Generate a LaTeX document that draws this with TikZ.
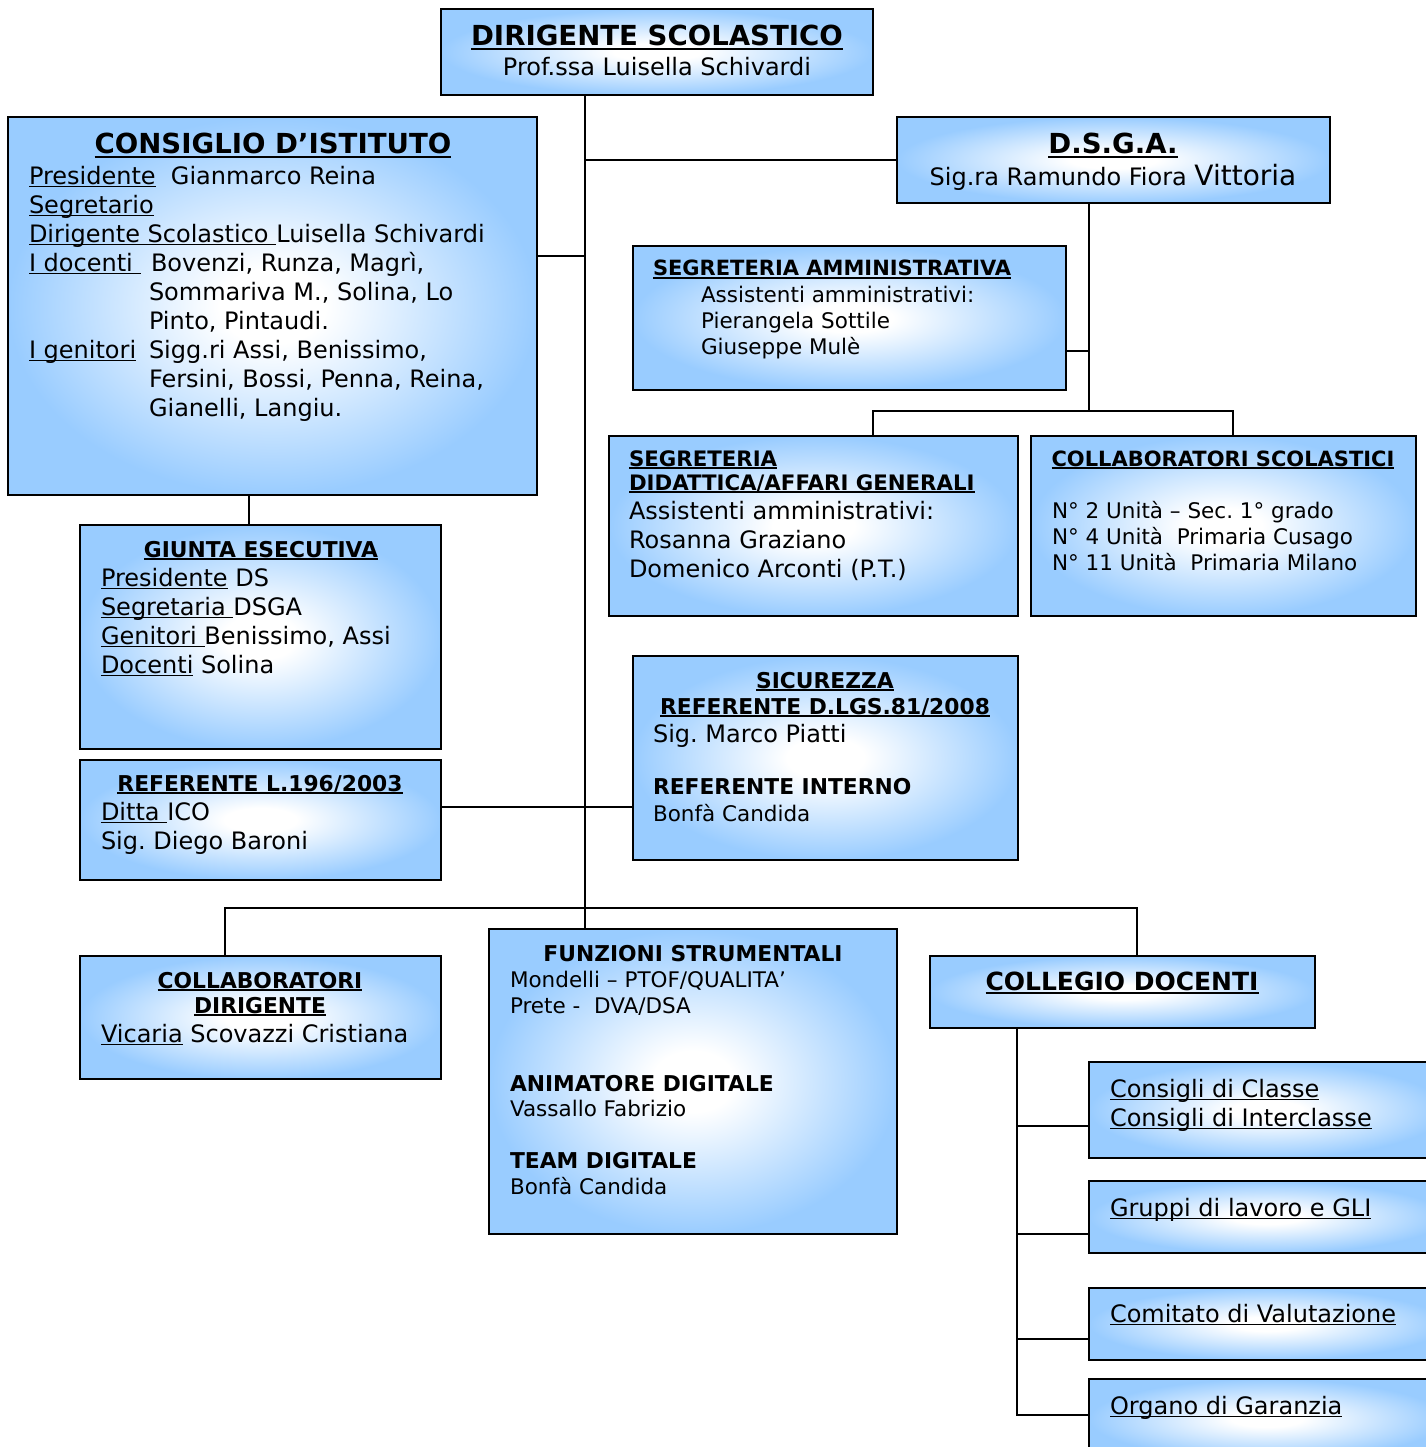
\documentclass[tikz,border=0pt]{standalone}
\usepackage{fontspec}
\setmainfont{DejaVu Sans}
\frenchspacing
\definecolor{boxblue}{HTML}{99CCFF}
\pgfdeclareradialshading{boxshade}{\pgfpoint{0bp}{0bp}}{color(0bp)=(white); color(5bp)=(white); color(25bp)=(boxblue); color(50bp)=(boxblue)}
\newcommand\myul[1]{\setbox0\hbox{#1}\rlap{\rule[-0.14em]{\wd0}{0.075em}}\box0\relax}
\newcommand\fs[2]{\fontsize{#1}{#2}\selectfont}
\newcommand\fl{\rule{0pt}{1em}}
\begin{document}
\begin{tikzpicture}[x=1pt,y=-1pt,
  box/.style={draw=black, line width=2.4pt, shade, shading=boxshade, anchor=north west, inner sep=0pt, outer sep=0pt},
  conn/.style={draw=black, line width=2pt},
  txt/.style={anchor=north west, inner sep=0pt, outer sep=0pt, align=left},
  ctr/.style={anchor=north, inner sep=0pt, outer sep=0pt, align=center},
  big/.style={font=\fs{27.6}{31}\bfseries\frenchspacing},
  hd/.style={font=\fs{21.8}{26}\bfseries\frenchspacing},
  bd/.style={font=\fs{24}{29}\frenchspacing},
  sm/.style={font=\fs{21.5}{26}\frenchspacing}]
\fill[white] (0,0) rectangle (1425,1447);
\useasboundingbox (0,0) rectangle (1425,1447);
% boxes
\node[box, minimum width=432pt, minimum height=86pt] (dir) at (441,9) {};
\node[box, minimum width=529pt, minimum height=378pt] (ci) at (8,117) {};
\node[box, minimum width=433pt, minimum height=86pt] (dsga) at (897,117) {};
\node[box, minimum width=433pt, minimum height=144pt] (sam) at (633,246) {};
\node[box, minimum width=409pt, minimum height=180pt] (sdid) at (609,436) {};
\node[box, minimum width=385pt, minimum height=180pt] (csc) at (1031,436) {};
\node[box, minimum width=361pt, minimum height=224pt] (giu) at (80,525) {};
\node[box, minimum width=385pt, minimum height=204pt] (sic) at (633,656) {};
\node[box, minimum width=361pt, minimum height=120pt] (l196) at (80,760) {};
\node[box, minimum width=361pt, minimum height=123pt] (cdir) at (80,956) {};
\node[box, minimum width=408pt, minimum height=305pt] (fun) at (489,929) {};
\node[box, minimum width=385pt, minimum height=72pt] (col) at (930,956) {};
\node[box, minimum width=356pt, minimum height=96pt] (ccl) at (1089,1062) {};
\node[box, minimum width=356pt, minimum height=72pt] (gru) at (1089,1181) {};
\node[box, minimum width=356pt, minimum height=72pt] (com) at (1089,1288) {};
\node[box, minimum width=356pt, minimum height=80pt] (org) at (1089,1379) {};
% coordinates for connectors
\coordinate (tk) at (585,0);
\coordinate (cij) at (585,256);
\coordinate (cg) at (249,0);
\coordinate (ry) at (0,807);
\coordinate (bl) at (225,908);
\coordinate (br) at (1137,908);
\coordinate (dx) at (1089,411);
\coordinate (dl) at (873,411);
\coordinate (dr) at (1233,411);
\coordinate (sy) at (0,351);
\coordinate (cv) at (1017,0);
% connectors
\draw[conn] (dir.south -| tk) -- (fun.north -| tk);
\draw[conn] (tk |- dsga.west) -- (dsga.west);
\draw[conn] (cij -| ci.east) -- (cij);
\draw[conn] (ci.south -| cg) -- (giu.north -| cg);
\draw[conn] (l196.east |- ry) -- (sic.west |- ry);
\draw[conn] (cdir.north -| bl) -- (bl) -- (br) -- (col.north -| br);
\draw[conn] (dsga.south -| dx) -- (dx);
\draw[conn] (sdid.north -| dl) -- (dl) -- (dr) -- (csc.north -| dr);
\draw[conn] (sam.east |- sy) -- (dx |- sy);
\draw[conn] (col.south -| cv) -- (cv |- 0,1415) -- (org.west |- 0,1415);
\draw[conn] (cv |- 0,1126) -- (ccl.west |- 0,1126);
\draw[conn] (cv |- 0,1234) -- (gru.west |- 0,1234);
\draw[conn] (cv |- 0,1339) -- (com.west |- 0,1339);
% texts
\node[ctr, big] (dirT) at (657,18.4) {\fl\myul{DIRIGENTE SCOLASTICO}};
\node[ctr, bd] (dirN) at (657,52) {\fl Prof.ssa Luisella Schivardi};
\node[ctr, big] (ciT) at (273,126.4) {\fl\myul{CONSIGLIO D’ISTITUTO}};
\node[txt, bd] (ciB) at (29,160) {\fl\myul{Presidente}\ \ Gianmarco Reina\\
\myul{Segretario}\\
\myul{Dirigente Scolastico\ }Luisella Schivardi\\
\makebox[122pt][l]{\myul{I docenti\ }}Bovenzi, Runza, Magrì,\\
\makebox[120pt][l]{}Sommariva M., Solina, Lo\\
\makebox[120pt][l]{}Pinto, Pintaudi.\\
\makebox[120pt][l]{\myul{I genitori}}Sigg.ri Assi, Benissimo,\\
\makebox[120pt][l]{}Fersini, Bossi, Penna, Reina,\\
\makebox[120pt][l]{}Gianelli, Langiu.};
\node[ctr, big] (dsT) at (1113,126.4) {\fl\myul{D.S.G.A.}};
\node[ctr, bd] (dsN) at (1113,162) {\fl Sig.ra Ramundo Fiora {\fs{28}{34}Vittoria}};
\node[txt, font=\fs{21}{26}\bfseries] (saT) at (653,255) {\fl\myul{SEGRETERIA AMMINISTRATIVA}};
\node[txt, sm] (saB) at (701,280.5) {\fl Assistenti amministrativi:\\Pierangela Sottile\\Giuseppe Mulè};
\node[txt, font=\fs{21.3}{24}\bfseries] (sdT) at (629,444.7) {\fl\myul{SEGRETERIA}\\\myul{DIDATTICA/AFFARI GENERALI}};
\node[txt, bd] (sdB) at (629,495) {\fl Assistenti amministrativi:\\Rosanna Graziano\\Domenico Arconti (P.T.)};
\node[ctr, font=\fs{21}{26}\bfseries] (csT) at (1223,445) {\fl\myul{COLLABORATORI SCOLASTICI}};
\node[txt, sm] (csB) at (1052,496.5) {\fl N° 2 Unità – Sec. 1° grado\\N° 4 Unità\ \ Primaria Cusago\\N° 11 Unità\ \ Primaria Milano};
\node[ctr, hd] (giT) at (261,535.2) {\fl\myul{GIUNTA ESECUTIVA}};
\node[txt, bd] (giB) at (101,562) {\fl\myul{Presidente} DS\\\myul{Segretaria\ }DSGA\\\myul{Genitori\ }Benissimo, Assi\\\myul{Docenti} Solina};
\node[ctr, font=\fs{21.8}{26}\bfseries] (siT) at (825,666.2) {\fl\myul{SICUREZZA}\\\myul{REFERENTE D.LGS.81/2008}};
\node[txt, bd] (siN) at (653,718) {\fl Sig. Marco Piatti};
\node[txt, hd] (siR) at (653,772.2) {\fl REFERENTE INTERNO};
\node[txt, sm] (siB) at (653,799.5) {\fl Bonfà Candida};
\node[ctr, hd] (lT) at (260,769.2) {\fl\myul{REFERENTE L.196/2003}};
\node[txt, bd] (lB) at (101,796) {\fl\myul{Ditta\ }ICO\\Sig. Diego Baroni};
\node[ctr, font=\fs{21.8}{25}\bfseries] (cdT) at (260,966.2) {\fl\myul{COLLABORATORI}\\\myul{DIRIGENTE}};
\node[txt, bd] (cdB) at (101,1018) {\fl\myul{Vicaria} Scovazzi Cristiana};
\node[ctr, hd] (fuT) at (693,939.2) {\fl FUNZIONI STRUMENTALI};
\node[txt, sm] (fuB) at (510,965.5) {\fl Mondelli – PTOF/QUALITA’\\Prete -\ \ DVA/DSA};
\node[txt, hd] (fuA) at (510,1069.2) {\fl ANIMATORE DIGITALE};
\node[txt, sm] (fuV) at (510,1094.5) {\fl Vassallo Fabrizio};
\node[txt, hd] (fuD) at (510,1146.2) {\fl TEAM DIGITALE};
\node[txt, sm] (fuC) at (510,1172.5) {\fl Bonfà Candida};
\node[ctr, font=\fs{25}{30}\bfseries] (coT) at (1122,965) {\fl\myul{COLLEGIO DOCENTI}};
\node[txt, bd] (cclT) at (1110,1073) {\fl\myul{Consigli di Classe}\\\myul{Consigli di Interclasse}};
\node[txt, bd] (gruT) at (1110,1192) {\fl\myul{Gruppi di lavoro e GLI}};
\node[txt, bd] (comT) at (1110,1298) {\fl\myul{Comitato di Valutazione}};
\node[txt, bd] (orgT) at (1110,1390) {\fl\myul{Organo di Garanzia}};
\end{tikzpicture}
\end{document}
